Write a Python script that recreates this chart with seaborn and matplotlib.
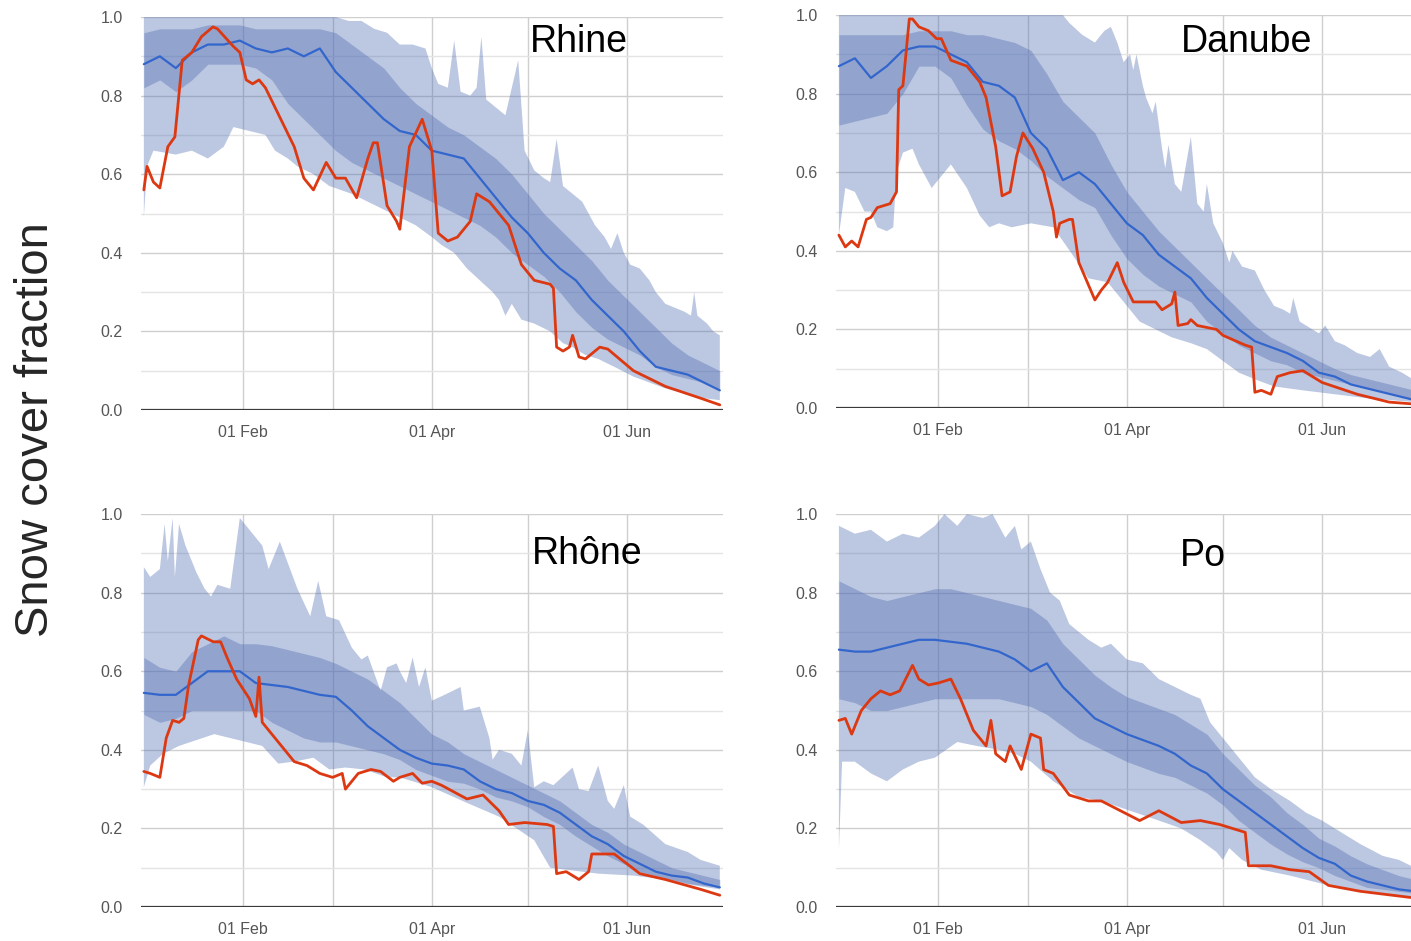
import numpy as np
import pandas as pd
import seaborn as sns
import matplotlib.pyplot as plt
import matplotlib.dates as mdates

# day 0 = 01 Jan; bands/median sampled every 5 days
days = list(range(0, 181, 5))

# ---- Rhine ----
rhine_med = [0.88, 0.90, 0.87, 0.91, 0.93, 0.93, 0.94, 0.92, 0.91, 0.92, 0.90, 0.92, 0.86, 0.82, 0.78, 0.74, 0.71, 0.70, 0.66,
             0.65, 0.64, 0.59, 0.54, 0.49, 0.45, 0.40, 0.36, 0.33, 0.28, 0.24, 0.20, 0.15, 0.11, 0.10, 0.09, 0.07, 0.05]
rhine_p75 = [0.96, 0.97, 0.97, 0.97, 0.98, 0.98, 0.98, 0.97, 0.97, 0.97, 0.97, 0.97, 0.96, 0.93, 0.90, 0.87, 0.82, 0.78, 0.75,
             0.72, 0.70, 0.67, 0.64, 0.60, 0.55, 0.50, 0.46, 0.42, 0.38, 0.33, 0.29, 0.25, 0.21, 0.17, 0.14, 0.12, 0.10]
rhine_p25 = [0.82, 0.84, 0.81, 0.84, 0.88, 0.88, 0.88, 0.87, 0.84, 0.78, 0.74, 0.70, 0.66, 0.63, 0.61, 0.59, 0.57, 0.55, 0.53,
             0.51, 0.49, 0.47, 0.44, 0.40, 0.37, 0.34, 0.30, 0.25, 0.21, 0.18, 0.16, 0.14, 0.11, 0.09, 0.08, 0.07, 0.05]
rhine_max_d = [0, 60, 64, 68, 72, 76, 80, 84, 88, 90, 92, 95, 97, 99, 102, 104, 105.5, 107, 110, 113, 117, 119, 122, 125, 127,
               129, 131, 134, 137, 141, 144, 146, 148, 150, 152, 155, 158, 160, 163, 166, 169, 171, 172, 173, 176, 178, 180]
rhine_max = [1.0, 1.0, 0.99, 0.99, 0.97, 0.96, 0.93, 0.93, 0.92, 0.87, 0.83, 0.82, 0.94, 0.81, 0.80, 0.82, 0.95, 0.79, 0.77, 0.75,
             0.89, 0.66, 0.61, 0.59, 0.58, 0.69, 0.57, 0.55, 0.53, 0.47, 0.44, 0.41, 0.45, 0.40, 0.37, 0.36, 0.33, 0.30, 0.27,
             0.26, 0.25, 0.24, 0.30, 0.24, 0.22, 0.20, 0.19]
rhine_min_d = [0, 1, 3, 10, 15, 20, 25, 28, 33, 38, 41, 45, 48, 53, 58, 65, 70, 75, 80, 85, 90, 93, 97, 101, 105, 109, 111,
               113, 115, 118, 122, 127, 131, 134, 138, 142, 147, 153, 158, 163, 170, 175, 180]
rhine_min = [0.49, 0.62, 0.66, 0.65, 0.66, 0.64, 0.67, 0.72, 0.71, 0.70, 0.66, 0.64, 0.62, 0.60, 0.57, 0.55, 0.53, 0.51, 0.49,
             0.47, 0.44, 0.42, 0.40, 0.36, 0.33, 0.30, 0.28, 0.24, 0.27, 0.23, 0.22, 0.20, 0.17, 0.16, 0.14, 0.13, 0.11, 0.085,
             0.07, 0.055, 0.04, 0.03, 0.025]
rhine_obs_d = [0, 1, 3, 5, 7.5, 9.7, 12, 15, 18, 21.6, 23, 28, 30, 32, 34, 36, 38, 42.5, 47, 50, 53, 57, 60, 63, 66.5, 70,
               71.7, 73, 76, 79, 80, 83, 87, 90, 92, 95, 98, 101, 102, 104, 108, 114, 118, 122, 127, 128, 129, 131, 133,
               134, 136, 138, 142.5, 145, 153, 163, 174, 180]
rhine_obs = [0.56, 0.62, 0.58, 0.565, 0.67, 0.695, 0.89, 0.91, 0.95, 0.975, 0.97, 0.925, 0.91, 0.84, 0.83, 0.84, 0.82, 0.745,
             0.67, 0.59, 0.56, 0.63, 0.59, 0.59, 0.54, 0.64, 0.68, 0.68, 0.52, 0.48, 0.46, 0.67, 0.74, 0.66, 0.45, 0.43,
             0.44, 0.47, 0.48, 0.55, 0.53, 0.47, 0.37, 0.33, 0.32, 0.31, 0.16, 0.15, 0.16, 0.19, 0.135, 0.13, 0.16, 0.155,
             0.10, 0.06, 0.03, 0.013]

# ---- Danube ----
danube_med = [0.87, 0.89, 0.84, 0.87, 0.91, 0.92, 0.92, 0.90, 0.88, 0.83, 0.82, 0.79, 0.70, 0.66, 0.58, 0.60, 0.57, 0.52, 0.47,
              0.44, 0.39, 0.36, 0.33, 0.28, 0.24, 0.20, 0.17, 0.155, 0.14, 0.12, 0.09, 0.08, 0.06, 0.05, 0.04, 0.03, 0.02]
danube_p75 = [0.95, 0.95, 0.95, 0.95, 0.95, 0.96, 0.96, 0.96, 0.95, 0.95, 0.94, 0.93, 0.91, 0.85, 0.78, 0.74, 0.70, 0.62, 0.55,
              0.50, 0.45, 0.41, 0.37, 0.33, 0.29, 0.25, 0.21, 0.18, 0.16, 0.14, 0.12, 0.10, 0.085, 0.075, 0.065, 0.055, 0.045]
danube_p25 = [0.72, 0.73, 0.74, 0.75, 0.80, 0.87, 0.87, 0.84, 0.77, 0.71, 0.68, 0.66, 0.63, 0.59, 0.56, 0.53, 0.51, 0.44, 0.38,
              0.34, 0.31, 0.29, 0.27, 0.22, 0.19, 0.16, 0.14, 0.12, 0.11, 0.09, 0.08, 0.07, 0.06, 0.05, 0.04, 0.03, 0.02]
danube_max_d = [0, 70, 72, 76, 80, 83, 85, 87, 89, 91, 92, 93, 95, 96, 98, 99, 101, 102, 103, 105, 107, 110, 112, 114, 115,
                117, 120, 122, 123, 126, 130, 133, 136, 139, 141, 142, 144, 148, 150, 152, 155, 158, 162, 166, 169, 172,
                176, 180]
danube_max = [1.0, 1.0, 0.98, 0.95, 0.93, 0.96, 0.97, 0.93, 0.88, 0.90, 0.86, 0.90, 0.82, 0.79, 0.75, 0.78, 0.66, 0.61, 0.67,
              0.57, 0.55, 0.69, 0.52, 0.50, 0.57, 0.47, 0.42, 0.37, 0.40, 0.36, 0.35, 0.30, 0.26, 0.25, 0.24, 0.28, 0.22,
              0.20, 0.19, 0.21, 0.17, 0.16, 0.14, 0.13, 0.15, 0.105, 0.09, 0.07]
danube_min_d = [0, 2, 5, 8, 10, 12, 15, 17, 18, 20, 23, 25, 29, 35, 40, 44, 47, 50, 54, 60, 67, 73, 78, 84, 89, 94, 99, 104,
                110, 115, 120, 125, 131, 136, 145, 155, 165, 180]
danube_min = [0.44, 0.56, 0.55, 0.50, 0.50, 0.46, 0.45, 0.46, 0.60, 0.65, 0.66, 0.62, 0.56, 0.62, 0.56, 0.49, 0.46, 0.47,
              0.46, 0.47, 0.46, 0.39, 0.33, 0.32, 0.27, 0.22, 0.20, 0.18, 0.165, 0.15, 0.12, 0.09, 0.07, 0.055, 0.045,
              0.035, 0.025, 0.015]
danube_obs_d = [0, 2, 4, 6, 8.6, 10, 12, 16, 18, 18.7, 20, 22, 23, 25, 28, 30.5, 32, 35, 40, 44, 46, 49, 51, 53.5, 55.5,
                57.5, 60.6, 64, 67, 68, 69, 72, 73, 75, 80, 82, 84, 87, 89, 92, 99, 101, 104, 105, 106, 109, 110, 112,
                118, 120, 127, 129, 130, 132, 135, 137, 141, 145, 151, 162, 172, 180]
danube_obs = [0.44, 0.41, 0.425, 0.41, 0.48, 0.485, 0.51, 0.52, 0.55, 0.81, 0.82, 0.99, 0.99, 0.97, 0.96, 0.94, 0.94, 0.885,
              0.87, 0.83, 0.79, 0.665, 0.54, 0.55, 0.64, 0.70, 0.66, 0.60, 0.50, 0.435, 0.47, 0.48, 0.48, 0.37, 0.275,
              0.30, 0.32, 0.37, 0.32, 0.27, 0.27, 0.25, 0.265, 0.295, 0.21, 0.215, 0.225, 0.21, 0.20, 0.185, 0.16, 0.155,
              0.04, 0.045, 0.035, 0.08, 0.09, 0.095, 0.065, 0.035, 0.015, 0.01]

# ---- Rhone ----
rhone_med = [0.545, 0.54, 0.54, 0.57, 0.60, 0.60, 0.60, 0.57, 0.565, 0.56, 0.55, 0.54, 0.535, 0.50, 0.46, 0.43, 0.40, 0.38,
             0.365, 0.36, 0.35, 0.32, 0.30, 0.29, 0.27, 0.26, 0.24, 0.21, 0.18, 0.16, 0.13, 0.11, 0.09, 0.08, 0.075, 0.06, 0.05]
rhone_p75 = [0.635, 0.61, 0.60, 0.65, 0.67, 0.69, 0.67, 0.67, 0.665, 0.655, 0.645, 0.635, 0.62, 0.60, 0.58, 0.55, 0.52, 0.48,
             0.44, 0.42, 0.39, 0.37, 0.35, 0.33, 0.31, 0.29, 0.27, 0.24, 0.21, 0.19, 0.16, 0.14, 0.12, 0.10, 0.09, 0.08, 0.07]
rhone_p25 = [0.49, 0.47, 0.48, 0.50, 0.50, 0.50, 0.50, 0.50, 0.47, 0.45, 0.43, 0.42, 0.42, 0.41, 0.40, 0.39, 0.375, 0.35,
             0.335, 0.32, 0.315, 0.30, 0.28, 0.27, 0.255, 0.23, 0.21, 0.18, 0.155, 0.13, 0.11, 0.09, 0.08, 0.07, 0.06, 0.055, 0.05]
rhone_max_d = [0, 2, 5, 6.5, 7.5, 9, 9.7, 11, 13, 16.5, 19, 21, 23, 27, 30, 32, 37, 39, 42.5, 48, 52, 54.5, 57, 61, 65, 68,
               70, 74, 76, 79, 80, 82, 84, 86, 88, 90, 94, 99, 100, 105, 108, 109, 111, 115, 118, 120, 122, 125, 128, 134,
               136, 139, 142, 145, 147, 150, 152, 156, 163, 170, 174, 180]
rhone_max = [0.865, 0.84, 0.86, 0.975, 0.88, 0.99, 0.84, 0.975, 0.92, 0.85, 0.81, 0.79, 0.82, 0.81, 0.99, 0.97, 0.92, 0.86,
             0.93, 0.81, 0.74, 0.83, 0.74, 0.73, 0.66, 0.63, 0.64, 0.55, 0.61, 0.62, 0.60, 0.57, 0.635, 0.56, 0.61, 0.525,
             0.54, 0.56, 0.50, 0.51, 0.43, 0.375, 0.40, 0.39, 0.36, 0.45, 0.305, 0.32, 0.31, 0.355, 0.30, 0.295, 0.36,
             0.27, 0.25, 0.31, 0.23, 0.21, 0.16, 0.14, 0.12, 0.105]
rhone_min_d = [0, 2, 6, 11, 22, 27, 32, 37, 42, 47, 53, 58, 63, 69, 76, 80, 90, 101, 111, 122, 127, 132, 142, 153, 163, 172, 180]
rhone_min = [0.305, 0.36, 0.39, 0.41, 0.44, 0.43, 0.42, 0.41, 0.365, 0.37, 0.38, 0.35, 0.355, 0.35, 0.33, 0.33, 0.305, 0.265,
             0.23, 0.17, 0.10, 0.095, 0.085, 0.08, 0.07, 0.055, 0.045]
rhone_obs_d = [0, 2, 5, 7, 9, 11, 12.5, 14, 17, 18, 21.7, 24, 26, 29, 33, 35, 36, 37, 40, 42, 47, 51, 55, 59, 62, 63, 67, 71,
               74, 78, 80, 84, 87, 90, 93, 101, 106, 111, 114, 119, 126, 128, 129, 132, 136, 139, 140, 147, 151, 155, 163,
               174, 180]
rhone_obs = [0.345, 0.34, 0.33, 0.43, 0.475, 0.47, 0.48, 0.565, 0.68, 0.69, 0.675, 0.675, 0.635, 0.58, 0.53, 0.485, 0.585,
             0.47, 0.44, 0.42, 0.37, 0.36, 0.34, 0.33, 0.34, 0.30, 0.34, 0.35, 0.345, 0.32, 0.33, 0.34, 0.315, 0.32, 0.31,
             0.275, 0.285, 0.245, 0.21, 0.215, 0.21, 0.205, 0.085, 0.09, 0.07, 0.09, 0.135, 0.135, 0.11, 0.085, 0.07, 0.045,
             0.03]

# ---- Po ----
po_med = [0.655, 0.65, 0.65, 0.66, 0.67, 0.68, 0.68, 0.675, 0.67, 0.66, 0.65, 0.63, 0.60, 0.62, 0.56, 0.52, 0.48, 0.46, 0.44,
          0.425, 0.41, 0.39, 0.36, 0.34, 0.30, 0.27, 0.24, 0.21, 0.18, 0.15, 0.125, 0.11, 0.08, 0.065, 0.055, 0.045, 0.04]
po_p75 = [0.83, 0.81, 0.79, 0.78, 0.79, 0.80, 0.81, 0.81, 0.80, 0.79, 0.78, 0.77, 0.76, 0.73, 0.67, 0.63, 0.59, 0.56, 0.535,
          0.52, 0.505, 0.49, 0.465, 0.44, 0.39, 0.35, 0.31, 0.28, 0.24, 0.21, 0.175, 0.155, 0.13, 0.11, 0.095, 0.08, 0.07]
po_p25 = [0.53, 0.52, 0.50, 0.50, 0.51, 0.52, 0.53, 0.53, 0.53, 0.53, 0.53, 0.52, 0.51, 0.49, 0.46, 0.43, 0.41, 0.39, 0.37,
          0.355, 0.34, 0.33, 0.31, 0.29, 0.26, 0.22, 0.19, 0.16, 0.135, 0.115, 0.10, 0.08, 0.065, 0.05, 0.045, 0.04, 0.035]
po_max_d = [0, 5, 10, 15, 20, 25, 30, 33, 37, 40, 45, 48, 52, 55, 57, 60, 63, 66, 69, 72, 75, 78, 82, 85, 90, 95, 100, 105,
            110, 113, 116, 120, 125, 130, 135, 141, 146, 151, 157, 163, 170, 175, 180]
po_max = [0.97, 0.95, 0.96, 0.93, 0.95, 0.94, 0.97, 1.0, 0.97, 1.0, 0.99, 1.0, 0.94, 0.97, 0.91, 0.93, 0.86, 0.80, 0.78, 0.72,
          0.70, 0.68, 0.66, 0.67, 0.63, 0.62, 0.58, 0.56, 0.54, 0.53, 0.47, 0.43, 0.38, 0.33, 0.30, 0.27, 0.24, 0.22, 0.19,
          0.16, 0.13, 0.12, 0.10]
po_min_d = [0, 1, 5, 10, 15, 20, 25, 30, 37, 43, 50, 55, 60, 67, 75, 82, 91, 100, 107, 113, 118, 120, 122, 126, 132, 141, 153,
            165, 180]
po_min = [0.145, 0.37, 0.37, 0.34, 0.32, 0.35, 0.37, 0.38, 0.42, 0.41, 0.40, 0.39, 0.37, 0.32, 0.28, 0.27, 0.245, 0.22, 0.20,
          0.17, 0.14, 0.12, 0.15, 0.12, 0.095, 0.08, 0.055, 0.04, 0.023]
po_obs_d = [0, 2, 4, 7, 10, 13, 16, 19, 23, 25, 28, 31, 35, 38, 42, 46, 47.5, 49, 52, 53.5, 57, 60, 63, 64, 67, 72, 78, 82,
            88, 94, 100, 107, 113, 119, 125, 127, 128, 135, 141, 147, 153, 163, 180]
po_obs = [0.475, 0.48, 0.44, 0.50, 0.53, 0.55, 0.54, 0.55, 0.615, 0.58, 0.565, 0.57, 0.58, 0.53, 0.45, 0.41, 0.475, 0.39, 0.37,
          0.41, 0.35, 0.44, 0.43, 0.35, 0.34, 0.285, 0.27, 0.27, 0.245, 0.22, 0.245, 0.215, 0.22, 0.21, 0.195, 0.19, 0.105,
          0.105, 0.095, 0.09, 0.055, 0.04, 0.023]

panels = [
    ("Rhine", rhine_med, rhine_p25, rhine_p75, rhine_min_d, rhine_min, rhine_max_d, rhine_max, rhine_obs_d, rhine_obs),
    ("Danube", danube_med, danube_p25, danube_p75, danube_min_d, danube_min, danube_max_d, danube_max, danube_obs_d, danube_obs),
    ("Rhône", rhone_med, rhone_p25, rhone_p75, rhone_min_d, rhone_min, rhone_max_d, rhone_max, rhone_obs_d, rhone_obs),
    ("Po", po_med, po_p25, po_p75, po_min_d, po_min, po_max_d, po_max, po_obs_d, po_obs),
]
# axes rectangles and where the river name sits (axes fraction)
rects = [[0.0999, 0.5643, 0.4125, 0.4176], [0.5925, 0.5664, 0.4125, 0.4176],
         [0.0999, 0.0361, 0.4125, 0.4176], [0.5925, 0.0361, 0.4125, 0.4176]]
name_pos = [(0.668, 0.911), (0.593, 0.906), (0.672, 0.873), (0.591, 0.868)]

sns.set_style("whitegrid")
plt.rcParams['font.family'] = ['Liberation Sans', 'DejaVu Sans']

start = mdates.date2num(pd.Timestamp("2013-01-01"))
def to_x(d):
    return start + np.asarray(d, dtype=float)

band_col = "#4a68b0"
fig = plt.figure(figsize=(14.11, 9.41), dpi=100)

for (name, med, p25, p75, mn_d, mn, mx_d, mx, ob_d, ob), rect, npos in zip(panels, rects, name_pos):
    ax = fig.add_axes(rect)
    # min-max envelope
    px = np.concatenate([to_x(mx_d), to_x(mn_d)[::-1]])
    py = np.concatenate([mx, mn[::-1]])
    ax.fill(px, py, color=band_col, alpha=0.37, lw=0, zorder=1)
    # interquartile band
    ax.fill_between(to_x(days), p25, p75, color=band_col, alpha=0.37, lw=0, zorder=2)
    sns.lineplot(x=to_x(days), y=med, ax=ax, color="#3366cc", lw=1.6, zorder=3)
    sns.lineplot(x=to_x(ob_d), y=ob, ax=ax, color="#dc3912", lw=2.0, zorder=4)

    ax.set_xlim(start - 0.9, start + 181)
    ax.set_ylim(0, 1.0)
    ax.xaxis.set_major_locator(mdates.MonthLocator(bymonth=[2, 4, 6]))
    ax.xaxis.set_minor_locator(mdates.MonthLocator(bymonth=[3, 5]))
    ax.xaxis.set_major_formatter(mdates.DateFormatter("%d %b"))
    ax.set_yticks([0, 0.2, 0.4, 0.6, 0.8, 1.0])
    ax.set_yticks([0.1, 0.3, 0.5, 0.7, 0.9], minor=True)
    ax.set_yticklabels(["0.0", "0.2", "0.4", "0.6", "0.8", "1.0"])
    ax.grid(which="major", color="#cfcfcf", lw=1.0)
    ax.grid(which="minor", axis="y", color="#e4e4e4", lw=1.0)
    ax.grid(which="minor", axis="x", color="#cfcfcf", lw=1.0)
    ax.axhline(0, color="#3a3a3a", lw=1.6, zorder=5)
    ax.tick_params(axis="both", which="both", length=0, labelsize=11.5, labelcolor="#555555")
    ax.tick_params(axis="y", pad=13)
    ax.tick_params(axis="x", pad=11)
    for s in ax.spines.values():
        s.set_visible(False)
    ax.set_xlabel("")
    ax.set_ylabel("")
    ax.text(npos[0], npos[1], name, transform=ax.transAxes, fontsize=27, color="black", ha="left", va="baseline")

fig.text(0.0255, 0.543, "Snow cover fraction", rotation=90, fontsize=34, ha="center", va="center")
fig.savefig("out.png", dpi=100)
